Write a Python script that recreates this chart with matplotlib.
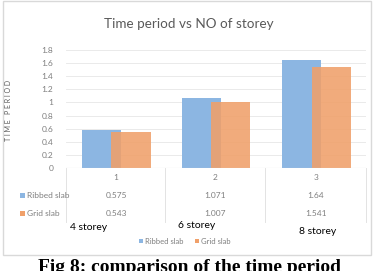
import numpy as np
import matplotlib.pyplot as plt
from matplotlib.patches import Rectangle
from matplotlib.lines import Line2D

categories = ["1", "2", "3"]
ribbed = [0.575, 1.071, 1.64]
grid = [0.543, 1.007, 1.541]
ribbed_lbl = ["0.575", "1.071", "1.64"]
grid_lbl = ["0.543", "1.007", "1.541"]
storeys = ["4 storey", "6 storey", "8 storey"]

blue = "#8cb6e2"
orange = "#f0a06a"
gray = "#7f7f7f"
plt.rcParams["font.family"] = ["Lato", "DejaVu Sans"]

W, H = 379, 271
fig = plt.figure(figsize=(W / 100, H / 100), dpi=100)

def fx(px):
    return px / W

def fy(py):
    return 1 - py / H

# chart border
fig.patches.append(Rectangle((fx(3), fy(255)), fx(368), 254 / H, transform=fig.transFigure,
                             fill=False, edgecolor="#d9d9d9", linewidth=1.0))

ax = fig.add_axes([fx(66), fy(168), fx(300), (168 - 50) / H])
x = np.arange(1, 4)
w = 0.39
ax.bar(x - 0.15, ribbed, w, color=blue, zorder=2)
ax.bar(x + 0.15, grid, w, color=orange, alpha=0.88, zorder=3)
ax.set_xlim(0.5, 3.5)
ax.set_ylim(0, 1.8)
ax.set_yticks(np.arange(0, 1.81, 0.2))
ax.set_yticklabels(["0", "0.2", "0.4", "0.6", "0.8", "1", "1.2", "1.4", "1.6", "1.8"],
                   fontsize=6, color=gray)
ax.set_xticks([])
ax.tick_params(axis="y", length=0, pad=9)
ax.yaxis.grid(True, color="#e6e6e6", linewidth=0.6, zorder=0)
for s in ax.spines.values():
    s.set_visible(False)
ax.axhline(0, color="#d9d9d9", linewidth=0.8, zorder=4)

fig.text(fx(189), fy(24), "Time period vs NO of storey", ha="center", va="center",
         fontsize=9.7, color="#595959")
fig.text(fx(9), fy(110), "T I M E   P E R I O D", rotation=90, ha="center", va="center",
         fontsize=5, color="#595959")

# data table
for px in [66, 165, 265, 366]:
    fig.add_artist(Line2D([fx(px), fx(px)], [fy(168), fy(222)], color="#e3e3e3",
                          linewidth=0.7, transform=fig.transFigure))
cx = [116, 215, 316]
for i in range(3):
    fig.text(fx(cx[i]), fy(178), categories[i], ha="center", va="center", fontsize=6, color=gray)
    fig.text(fx(cx[i]), fy(195), ribbed_lbl[i], ha="center", va="center", fontsize=6, color=gray)
    fig.text(fx(cx[i]), fy(213), grid_lbl[i], ha="center", va="center", fontsize=6, color=gray)
for py, c, name in [(195, blue, "Ribbed slab"), (213, orange, "Grid slab")]:
    fig.patches.append(Rectangle((fx(20), fy(py + 2.5)), fx(5), 5 / H, transform=fig.transFigure,
                                 facecolor=c, edgecolor="none"))
    fig.text(fx(27), fy(py), name, ha="left", va="center", fontsize=6, color=gray)

# storey labels
for px, py, t in [(89, 228, storeys[0]), (197, 226, storeys[1]), (318, 231, storeys[2])]:
    fig.text(fx(px), fy(py), t, ha="center", va="center", fontsize=7.5, color="black")

# legend
for px, c, name in [(139, blue, "Ribbed slab"), (195, orange, "Grid slab")]:
    fig.patches.append(Rectangle((fx(px), fy(243)), fx(4), 4 / H, transform=fig.transFigure,
                                 facecolor=c, edgecolor="none"))
    fig.text(fx(px + 6), fy(241), name, ha="left", va="center", fontsize=5.5, color=gray)

fig.text(fx(189), fy(259), "Fig 8: comparison of the time period", ha="center", va="top",
         fontsize=14, fontweight="bold", family="Liberation Serif", color="black")

fig.savefig("out.png", dpi=100)
